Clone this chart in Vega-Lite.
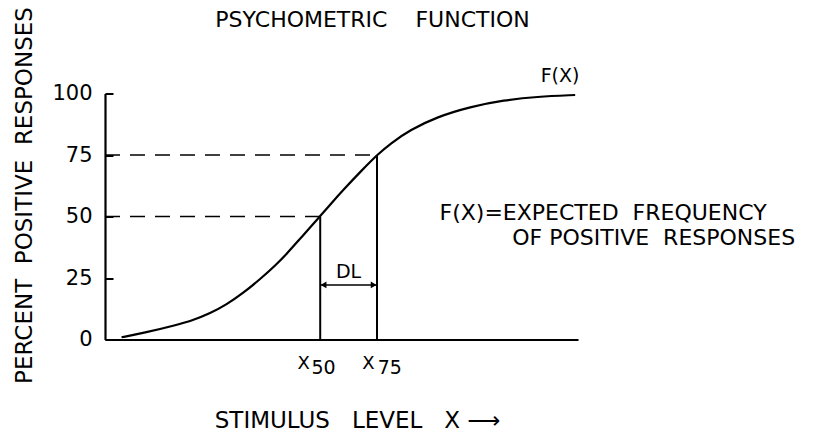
{
  "$schema": "https://vega.github.io/schema/vega-lite/v6.json",
  "autosize": "none",
  "width": 473,
  "height": 246,
  "padding": {"left": 105, "top": 93.5, "right": 237, "bottom": 93.5},
  "background": "white",
  "config": {
    "view": {"stroke": null},
    "font": "DejaVu Sans",
    "text": {"font": "DejaVu Sans", "color": "black"}
  },
  "title": {
    "text": "PSYCHOMETRIC \u00a0 \u00a0FUNCTION",
    "font": "DejaVu Sans",
    "fontSize": 22,
    "fontWeight": "normal",
    "color": "black",
    "anchor": "middle",
    "baseline": "alphabetic",
    "dx": 31,
    "offset": -42
  },
  "encoding": {
    "x": {"type": "quantitative", "scale": {"domain": [0, 100], "nice": false, "zero": false}},
    "y": {"type": "quantitative", "scale": {"domain": [0, 100], "nice": false, "zero": false}}
  },
  "layer": [
    {
      "data": {"values": [
        {"x": 3.5, "y": 0.9}, {"x": 8.1, "y": 2.6}, {"x": 15.2, "y": 5.9}, {"x": 18.7, "y": 7.9},
        {"x": 22.2, "y": 10.6}, {"x": 25.7, "y": 14.2}, {"x": 29.2, "y": 18.9}, {"x": 32.8, "y": 24.5},
        {"x": 36.3, "y": 30.6}, {"x": 38.4, "y": 34.8}, {"x": 40.8, "y": 40.0}, {"x": 43.8, "y": 46.5},
        {"x": 45.5, "y": 50.2}, {"x": 48.0, "y": 55.7}, {"x": 50.3, "y": 60.7}, {"x": 54.5, "y": 69.2},
        {"x": 57.5, "y": 75.0}, {"x": 60.3, "y": 79.6}, {"x": 64.5, "y": 85.2}, {"x": 70.2, "y": 90.5},
        {"x": 77.2, "y": 94.6}, {"x": 84.3, "y": 97.3}, {"x": 91.3, "y": 98.7}, {"x": 99.4, "y": 99.4}
      ]},
      "mark": {"type": "line", "interpolate": "basis", "color": "black", "strokeWidth": 2.2},
      "encoding": {
        "x": {"field": "x", "type": "quantitative",
          "axis": {"labels": false, "ticks": false, "grid": false, "domainColor": "black", "domainWidth": 2.2,
            "title": "STIMULUS \u00a0 LEVEL \u00a0 X ⟶", "titleFont": "DejaVu Sans", "titleFontSize": 23, "titleFontWeight": "normal",
            "titleColor": "black", "titleX": 252, "titleY": 87.5, "titleBaseline": "alphabetic", "titleAlign": "center"}},
        "y": {"field": "y", "type": "quantitative",
          "axis": {"values": [0, 25, 50, 75, 100], "grid": false, "domainColor": "black", "domainWidth": 2.2,
            "tickColor": "black", "tickWidth": 2, "tickSize": -8,
            "labelFont": "DejaVu Sans", "labelFontSize": 21, "labelColor": "black", "labelPadding": 21,
            "title": "PERCENT \u00a0POSITIVE \u00a0RESPONSES", "titleFont": "DejaVu Sans", "titleFontSize": 23, "titleFontWeight": "normal",
            "titleColor": "black", "titleAngle": -90, "titleX": -81, "titleY": 101.5, "titleBaseline": "middle", "titleAlign": "center"}}
      }
    },
    {
      "data": {"values": [
        {"level": 75, "from": 0, "to": 57.5},
        {"level": 50, "from": 0, "to": 45.5}
      ]},
      "mark": {"type": "rule", "color": "black", "strokeWidth": 1.6, "strokeDash": [15, 10]},
      "encoding": {
        "x": {"field": "from", "type": "quantitative"},
        "x2": {"field": "to"},
        "y": {"field": "level", "type": "quantitative"}
      }
    },
    {
      "data": {"values": [
        {"pos": 45.5, "low": 0, "high": 50},
        {"pos": 57.5, "low": 0, "high": 75}
      ]},
      "mark": {"type": "rule", "color": "black", "strokeWidth": 2},
      "encoding": {
        "x": {"field": "pos", "type": "quantitative"},
        "y": {"field": "low", "type": "quantitative"},
        "y2": {"field": "high"}
      }
    },
    {
      "data": {"values": [{"from": 45.5, "to": 57.5, "level": 22.2}]},
      "mark": {"type": "rule", "color": "black", "strokeWidth": 1.5},
      "encoding": {
        "x": {"field": "from", "type": "quantitative"},
        "x2": {"field": "to"},
        "y": {"field": "level", "type": "quantitative"}
      }
    },
    {
      "data": {"values": [
        {"x": 46.2, "y": 22.2, "dir": "left"},
        {"x": 56.8, "y": 22.2, "dir": "right"}
      ]},
      "mark": {"type": "point", "filled": true, "color": "black", "size": 45, "opacity": 1},
      "encoding": {
        "x": {"field": "x", "type": "quantitative"},
        "y": {"field": "y", "type": "quantitative"},
        "shape": {"field": "dir", "type": "nominal", "scale": {"domain": ["left", "right"], "range": ["triangle-left", "triangle-right"]}, "legend": null}
      }
    },
    {
      "data": {"values": [{"x": 51.5, "y": 27.4, "label": "DL"}]},
      "mark": {"type": "text", "fontSize": 19, "align": "center", "baseline": "middle", "color": "black"},
      "encoding": {
        "x": {"field": "x", "type": "quantitative"},
        "y": {"field": "y", "type": "quantitative"},
        "text": {"field": "label"}
      }
    },
    {
      "data": {"values": [{"x": 96.2, "y": 107.1, "label": "F(X)"}]},
      "mark": {"type": "text", "fontSize": 19, "align": "center", "baseline": "middle", "color": "black"},
      "encoding": {
        "x": {"field": "x", "type": "quantitative"},
        "y": {"field": "y", "type": "quantitative"},
        "text": {"field": "label"}
      }
    },
    {
      "data": {"values": [
        {"x": 105.3, "y": 51.4, "label": "F(X)=EXPECTED \u00a0FREQUENCY"},
        {"x": 116.0, "y": 41.3, "label": "OF POSITIVE \u00a0RESPONSES"}
      ]},
      "mark": {"type": "text", "fontSize": 22, "align": "center", "baseline": "middle", "color": "black"},
      "encoding": {
        "x": {"field": "x", "type": "quantitative"},
        "y": {"field": "y", "type": "quantitative"},
        "text": {"field": "label"}
      }
    },
    {
      "data": {"values": [
        {"x": 42.0, "y": -9.8, "label": "X"},
        {"x": 55.7, "y": -9.8, "label": "X"}
      ]},
      "mark": {"type": "text", "fontSize": 18, "align": "center", "baseline": "middle", "color": "black"},
      "encoding": {
        "x": {"field": "x", "type": "quantitative"},
        "y": {"field": "y", "type": "quantitative"},
        "text": {"field": "label"}
      }
    },
    {
      "data": {"values": [
        {"x": 46.2, "y": -11.6, "label": "50"},
        {"x": 60.2, "y": -11.6, "label": "75"}
      ]},
      "mark": {"type": "text", "fontSize": 19, "align": "center", "baseline": "middle", "color": "black"},
      "encoding": {
        "x": {"field": "x", "type": "quantitative"},
        "y": {"field": "y", "type": "quantitative"},
        "text": {"field": "label"}
      }
    }
  ]
}
